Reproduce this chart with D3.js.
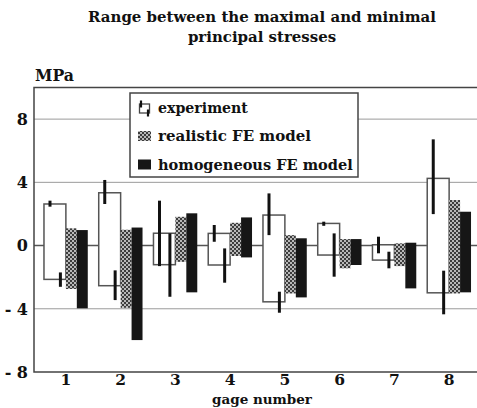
<!DOCTYPE html>
<html><head><meta charset="utf-8">
<script src="https://cdn.jsdelivr.net/npm/d3@7"></script>
<style>body{margin:0;background:#fff}svg{display:block}</style>
</head><body>
<script>
const gages = ["1","2","3","4","5","6","7","8"];
const expMax = [2.63, 3.34, 0.78, 0.77, 1.93, 1.40, 0.05, 4.25];
const expMin = [-2.14, -2.54, -1.21, -1.23, -3.56, -0.60, -0.92, -2.99];
const expTopErrHi = [2.84, 4.15, 2.84, 1.30, 3.30, 1.51, 0.56, 6.72];
const expTopErrLo = [2.46, 2.63, -1.30, 0.24, 0.66, 1.25, -0.49, 1.99];
const expBotErrHi = [-1.70, -1.57, 0.77, -0.18, -2.92, 0.77, -0.39, -1.59];
const expBotErrLo = [-2.61, -3.45, -3.24, -2.35, -4.25, -1.97, -1.44, -4.35];
const realMax = [1.09, 1.00, 1.82, 1.44, 0.66, 0.41, 0.14, 2.88];
const realMin = [-2.75, -3.94, -1.03, -0.66, -3.03, -1.44, -1.30, -3.03];
const homMax = [0.98, 1.14, 2.04, 1.78, 0.46, 0.41, 0.18, 2.14];
const homMin = [-3.97, -5.98, -2.96, -0.75, -3.28, -1.23, -2.71, -2.96];
const yTicks = [-8, -4, 0, 4, 8];
const gridVals = [-4, 4, 8];
const legendLabels = ["experiment", "realistic FE model", "homogeneous FE model"];
const titleLines = ["Range between the maximal and minimal", "principal stresses"];
const yUnit = "MPa";
const xTitle = "gage number";

(function(){
const W = 477, H = 408;
const FONT = "'DejaVu Serif', serif";
const svg = d3.select("body").append("svg").attr("width", W).attr("height", H);
const defs = svg.append("defs");
const pat = defs.append("pattern").attr("id","hatch").attr("patternUnits","userSpaceOnUse")
  .attr("width",4).attr("height",4);
pat.append("rect").attr("width",4).attr("height",4).attr("fill","#3c3c3c");
pat.append("rect").attr("x",0).attr("y",0).attr("width",2).attr("height",2).attr("fill","#b8b8b8");
pat.append("rect").attr("x",2).attr("y",2).attr("width",2).attr("height",2).attr("fill","#b8b8b8");

const pL = 34, pR = 480, pT = 87.5, pB = 372;
const y = d3.scaleLinear().domain([-8, 10]).range([pB, pT]);
const x = d3.scaleBand().domain(gages).range([38.5, 476.5]).paddingInner(0.2).paddingOuter(0.1);
const sub = d3.scaleLinear().domain([0, 4]).range([0, x.bandwidth()]);

function fitText(sel, target, base) {
  const len = sel.node().getComputedTextLength();
  sel.attr("font-size", base * target / len);
}

svg.append("g").selectAll("line").data(gridVals).join("line")
  .attr("x1", pL).attr("x2", pR).attr("y1", d => y(d)).attr("y2", d => y(d))
  .attr("stroke", "#9a9a9a").attr("stroke-width", 1);
svg.append("line").attr("x1", pL).attr("x2", pR).attr("y1", y(0)).attr("y2", y(0))
  .attr("stroke", "#555").attr("stroke-width", 1.5);

const lg = svg.append("g");
lg.append("rect").attr("x",130).attr("y",93).attr("width",228).attr("height",84)
  .attr("fill","#fff").attr("stroke","#444").attr("stroke-width",1.5);

const g = svg.append("g");
gages.forEach((gg, i) => {
  const x0 = x(gg);
  g.append("rect").attr("x", x0 + sub(0)).attr("width", sub(2) - sub(0))
    .attr("y", y(expMax[i])).attr("height", y(expMin[i]) - y(expMax[i]))
    .attr("fill", "#fff").attr("stroke", "#555").attr("stroke-width", 1.5);
  g.append("rect").attr("x", x0 + sub(2)).attr("width", sub(3) - sub(2))
    .attr("y", y(realMax[i])).attr("height", y(realMin[i]) - y(realMax[i]))
    .attr("fill", "url(#hatch)");
  g.append("rect").attr("x", x0 + sub(3)).attr("width", sub(4) - sub(3))
    .attr("y", y(homMax[i])).attr("height", y(homMin[i]) - y(homMax[i]))
    .attr("fill", "#161616");
  g.append("line").attr("x1", x0 + sub(0.55)).attr("x2", x0 + sub(0.55))
    .attr("y1", y(expTopErrHi[i])).attr("y2", y(expTopErrLo[i]))
    .attr("stroke", "#111").attr("stroke-width", 3);
  g.append("line").attr("x1", x0 + sub(1.5)).attr("x2", x0 + sub(1.5))
    .attr("y1", y(expBotErrHi[i])).attr("y2", y(expBotErrLo[i]))
    .attr("stroke", "#111").attr("stroke-width", 3);
});

svg.append("path").attr("d", `M${pR},${pT}H${pL}V${pB}H${pR}`)
  .attr("fill","none").attr("stroke","#444").attr("stroke-width",1.5);

svg.append("g").selectAll("text").data(yTicks).join("text")
  .attr("x", 28).attr("y", d => y(d)).attr("dy", "0.36em").attr("text-anchor","end")
  .attr("font-family", FONT).attr("font-weight","bold").attr("font-size", 16).attr("fill","#111")
  .text(d => d < 0 ? "- " + Math.abs(d) : d);
svg.append("g").selectAll("text").data(gages).join("text")
  .attr("x", d => x(d) + x.bandwidth()/2).attr("y", 385).attr("text-anchor","middle")
  .attr("font-family", FONT).attr("font-weight","bold").attr("font-size", 15.5).attr("fill","#111")
  .text(d => d);
const mpa = svg.append("text").attr("x", 35).attr("y", 81)
  .attr("font-family", FONT).attr("font-weight","bold").attr("font-size", 15).attr("fill","#111").text(yUnit);
fitText(mpa, 39, 15);
const xt = svg.append("text").attr("x", 262).attr("y", 403.5).attr("text-anchor","middle")
  .attr("font-family", FONT).attr("font-weight","bold").attr("font-size", 13.5).attr("fill","#111").text(xTitle);
const t1 = svg.append("text").attr("x", 262).attr("y", 22).attr("text-anchor","middle")
  .attr("font-family", FONT).attr("font-weight","bold").attr("font-size", 13).attr("fill","#111").text(titleLines[0]);
fitText(t1, 348, 13);
svg.append("text").attr("x", 262).attr("y", 42).attr("text-anchor","middle")
  .attr("font-family", FONT).attr("font-weight","bold").attr("font-size", t1.attr("font-size")).attr("fill","#111").text(titleLines[1]);

const rowY = [108.5, 136, 164.5];
lg.append("rect").attr("x",139.5).attr("y",rowY[0]-4.5).attr("width",10).attr("height",9)
  .attr("fill","#fff").attr("stroke","#444").attr("stroke-width",1.3);
lg.append("line").attr("x1",141).attr("x2",141).attr("y1",rowY[0]-8).attr("y2",rowY[0]-1)
  .attr("stroke","#111").attr("stroke-width",2.2);
lg.append("line").attr("x1",148).attr("x2",148).attr("y1",rowY[0]+1).attr("y2",rowY[0]+8)
  .attr("stroke","#111").attr("stroke-width",2.2);
lg.append("rect").attr("x",138).attr("y",rowY[1]-5).attr("width",13).attr("height",10).attr("fill","url(#hatch)");
lg.append("rect").attr("x",138).attr("y",rowY[2]-5).attr("width",13).attr("height",10).attr("fill","#161616");
const targets = [90, 153, 195];
legendLabels.forEach((l, i) => {
  const t = lg.append("text").attr("x", 158).attr("y", rowY[i]).attr("dy","0.35em")
    .attr("font-family", FONT).attr("font-weight","bold").attr("font-size", 14).attr("fill","#111").text(l);
  fitText(t, targets[i], 14);
});
})();
</script>
</body></html>
